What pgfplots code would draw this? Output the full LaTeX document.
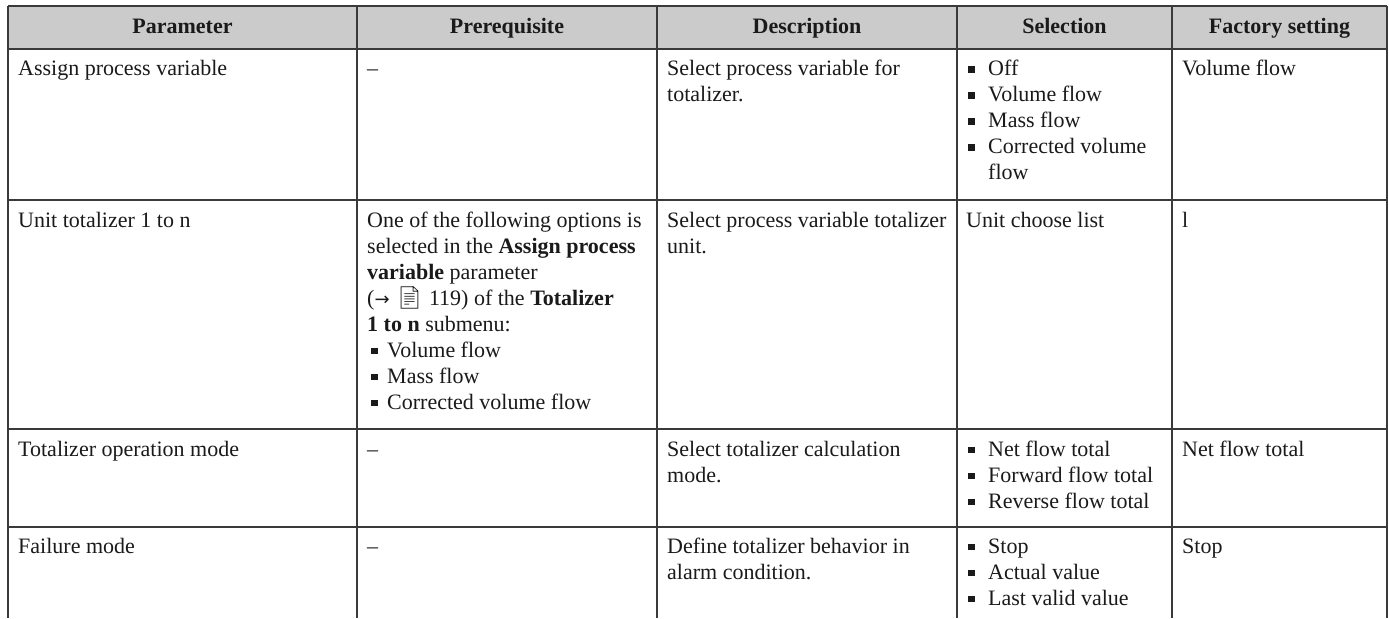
\documentclass[border=0pt]{standalone}
\usepackage{pgfplots}
\pgfplotsset{compat=1.18}
\usepackage{fontspec}
\setmainfont{Liberation Serif}
\newfontfamily\emojifont{Noto Emoji}
\newfontfamily\symfont{DejaVu Sans}
\definecolor{hdr}{HTML}{CBCBCB}
\definecolor{rulec}{HTML}{3A3A3A}
\definecolor{txt}{HTML}{1A1A1A}
\newcommand{\cellfont}{\fontsize{22bp}{26bp}\selectfont}
\newcommand{\TX}[3]{\node[anchor=base west,inner sep=0pt,font=\cellfont,text=txt] at (axis cs:#1,#2) {#3};}
\newcommand{\HD}[2]{\node[anchor=base,inner sep=0pt,font=\cellfont\bfseries,text=txt] at (axis cs:#1,34) {#2};}
\newcommand{\BL}[2]{\node[anchor=base west,inner sep=0pt,text=txt] at (axis cs:#1,#2) {\raisebox{3bp}{\rule{6.5bp}{6.5bp}}};}
\begin{document}
\begin{tikzpicture}
\begin{axis}[width=1389bp,height=618bp,scale only axis,axis lines=none,
  xmin=0,xmax=1389,ymin=0,ymax=618,y dir=reverse,clip=false]
\addplot[draw=none] coordinates {(0,0) (1389,618)};
% header background
\addplot[fill=hdr,draw=none] coordinates {(8,6) (1387,6) (1387,49) (8,49) (8,6)};
% horizontal rules
\addplot[rulec,line width=1.3bp] coordinates {(8,6) (1387,6)};
\addplot[rulec,line width=1.3bp] coordinates {(8,49) (1387,49)};
\addplot[rulec,line width=1.3bp] coordinates {(8,200) (1387,200)};
\addplot[rulec,line width=1.3bp] coordinates {(8,429) (1387,429)};
\addplot[rulec,line width=1.3bp] coordinates {(8,527) (1387,527)};
% vertical rules
\addplot[rulec,line width=1.3bp] coordinates {(8,6) (8,618)};
\addplot[rulec,line width=1.3bp] coordinates {(357,6) (357,618)};
\addplot[rulec,line width=1.3bp] coordinates {(657,6) (657,618)};
\addplot[rulec,line width=1.3bp] coordinates {(957,6) (957,618)};
\addplot[rulec,line width=1.3bp] coordinates {(1172,6) (1172,618)};
\addplot[rulec,line width=1.3bp] coordinates {(1387,6) (1387,618)};
% header
\HD{182.5}{Parameter}
\HD{507}{Prerequisite}
\HD{807}{Description}
\HD{1064.5}{Selection}
\HD{1279.5}{Factory setting}
% row 1
\TX{18}{76}{Assign process variable}
\TX{367}{76}{--}
\TX{667}{76}{Select process variable for}
\TX{667}{102}{totalizer.}
\BL{968}{76}\TX{988}{76}{Off}
\BL{968}{102}\TX{988}{102}{Volume flow}
\BL{968}{128}\TX{988}{128}{Mass flow}
\BL{968}{154}\TX{988}{154}{Corrected volume}
\TX{988}{180}{flow}
\TX{1182}{76}{Volume flow}
% row 2
\TX{18}{227}{Unit totalizer 1 to n}
\TX{367}{227}{One of the following options is}
\TX{367}{253}{selected in the \textbf{Assign process}}
\TX{367}{279}{\textbf{variable} parameter}
\TX{367}{305}{({\symfont\fontsize{18bp}{26bp}\selectfont →}\hspace{6bp}{\emojifont 📄} 119) of the \textbf{Totalizer}}
\TX{367}{331}{\textbf{1 to n} submenu:}
\BL{371}{357}\TX{387}{357}{Volume flow}
\BL{371}{383}\TX{387}{383}{Mass flow}
\BL{371}{409}\TX{387}{409}{Corrected volume flow}
\TX{667}{227}{Select process variable totalizer}
\TX{667}{253}{unit.}
\TX{966}{227}{Unit choose list}
\TX{1182}{227}{l}
% row 3
\TX{18}{456}{Totalizer operation mode}
\TX{367}{456}{--}
\TX{667}{456}{Select totalizer calculation}
\TX{667}{482}{mode.}
\BL{968}{456}\TX{988}{456}{Net flow total}
\BL{968}{482}\TX{988}{482}{Forward flow total}
\BL{968}{508}\TX{988}{508}{Reverse flow total}
\TX{1182}{456}{Net flow total}
% row 4
\TX{18}{553}{Failure mode}
\TX{367}{553}{--}
\TX{667}{553}{Define totalizer behavior in}
\TX{667}{579}{alarm condition.}
\BL{968}{553}\TX{988}{553}{Stop}
\BL{968}{579}\TX{988}{579}{Actual value}
\BL{968}{605}\TX{988}{605}{Last valid value}
\TX{1182}{553}{Stop}
\end{axis}
\end{tikzpicture}
\end{document}
